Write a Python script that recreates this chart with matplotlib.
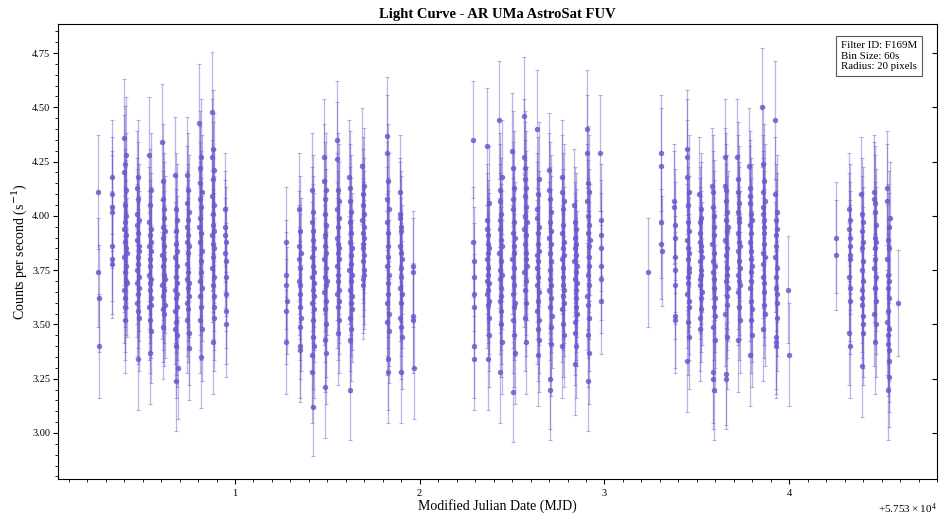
import numpy as np
import matplotlib
matplotlib.use("Agg")
import matplotlib.pyplot as plt
from matplotlib.ticker import AutoMinorLocator, ScalarFormatter

plt.rcParams['font.family'] = ['Liberation Serif', 'DejaVu Serif']
plt.rcParams['mathtext.fontset'] = 'dejavuserif'

MJD0 = 57530.0
BIN = 60.0  # seconds

# start of each orbit segment (days after MJD0)
orbit_start = [
    0.260, 0.332, 0.399, 0.468, 0.534, 0.606, 0.675, 0.738, 0.807, 0.875, 0.946,
    1.276, 1.347, 1.415, 1.482, 1.551, 1.619, 1.689, 1.821, 1.892, 1.964,
    2.290, 2.363, 2.431, 2.501, 2.565, 2.633, 2.700, 2.769, 2.837, 2.906, 2.978,
    3.238, 3.306, 3.378, 3.446, 3.514, 3.584, 3.653, 3.720, 3.785, 3.855, 3.924, 3.996,
    4.252, 4.324, 4.391, 4.459, 4.530, 4.590,
]

# count rate (counts/s) in each 60 s bin, one list per orbit segment
orbit_rates = [
    [4.11, 3.74, 3.62, 3.40],
    [4.18, 4.04, 3.86, 4.10, 3.80, 4.02, 3.78],
    [3.94, 4.20, 3.66, 3.81, 4.36, 3.58, 4.05, 3.88, 3.74, 4.24, 3.52, 3.97, 3.62, 4.12, 3.70, 3.85, 4.28, 3.91, 3.77, 4.00, 3.69, 3.83],
    [3.89, 4.01, 3.75, 3.60, 4.13, 3.96, 3.69, 3.34, 3.81, 4.08, 3.64, 3.92, 3.78, 4.18, 3.56, 3.86, 3.72, 3.98, 3.67, 3.84, 3.53],
    [3.73, 4.28, 3.86, 3.58, 3.97, 3.66, 3.37, 3.80, 4.05, 3.69, 3.52, 3.91, 3.77, 3.62, 4.12, 3.84, 3.47, 3.71, 3.94, 3.59, 3.88],
    [3.82, 4.34, 3.68, 3.95, 3.57, 4.08, 3.77, 3.63, 3.90, 3.49, 4.16, 3.73, 3.86, 3.55, 3.99, 3.66, 4.03, 3.80, 3.59, 3.93, 3.71],
    [3.66, 4.19, 3.48, 3.81, 3.56, 3.93, 3.24, 3.72, 3.62, 4.03, 3.51, 3.87, 3.40, 3.69, 3.77, 3.58, 3.98, 3.45, 3.84, 3.64, 3.30],
    [3.95, 4.19, 3.78, 3.60, 4.06, 3.71, 3.88, 3.52, 3.98, 3.67, 3.83, 4.12, 3.57, 3.91, 3.74, 3.39, 4.02, 3.63, 3.86, 3.69, 3.46],
    [4.43, 3.95, 4.22, 3.70, 4.08, 3.52, 3.88, 4.15, 3.63, 3.99, 3.35, 3.79, 4.27, 3.58, 3.92, 3.74, 4.04, 3.48, 3.84, 4.11, 3.67],
    [4.48, 4.09, 3.91, 4.27, 3.76, 4.01, 3.42, 3.87, 4.17, 3.68, 3.96, 4.31, 3.81, 3.58, 4.05, 3.72, 3.93, 3.53, 4.21, 3.85, 3.63],
    [4.03, 3.95, 3.91, 3.83, 3.79, 3.64, 3.50, 3.72, 3.88, 3.56],

    [3.88, 3.73, 3.68, 3.56, 3.42, 3.61],
    [4.03, 3.86, 3.80, 3.70, 3.68, 3.49, 3.40, 3.38, 3.93, 3.76, 3.58, 3.64, 3.83, 3.53],
    [3.97, 3.81, 4.12, 3.60, 3.36, 3.72, 3.28, 3.89, 3.12, 3.66, 4.02, 3.52, 3.77, 3.44, 3.93, 3.69, 3.57, 3.85, 3.40, 3.74, 3.63],
    [4.27, 3.80, 4.16, 3.65, 4.08, 3.43, 3.91, 3.21, 3.72, 4.01, 3.57, 3.86, 3.50, 3.96, 3.68, 3.76, 4.12, 3.61, 3.83, 3.37, 3.70],
    [4.35, 3.90, 4.26, 3.77, 3.64, 4.03, 3.46, 3.83, 3.70, 4.12, 3.58, 3.95, 3.73, 3.87, 3.52, 4.07, 3.66, 3.80, 3.99, 3.61, 3.85],
    [4.18, 3.75, 4.13, 3.53, 4.07, 3.43, 3.88, 3.20, 3.66, 3.97, 3.60, 3.82, 4.02, 3.70, 3.48, 3.92, 3.78, 3.63, 3.85, 3.57, 3.73],
    [4.23, 3.98, 4.10, 3.85, 3.79, 4.05, 3.71, 3.92, 3.68, 3.87, 4.14, 3.75, 3.95, 3.82, 4.01, 3.73, 3.90],
    [4.37, 3.97, 4.29, 3.77, 3.60, 4.08, 3.51, 3.86, 3.34, 3.69, 4.16, 3.92, 3.28, 3.64, 3.81, 3.55, 4.03, 3.73, 3.47],
    [4.11, 3.86, 4.01, 3.67, 3.99, 3.53, 3.83, 3.49, 3.93, 3.28, 3.76, 3.60, 3.72, 3.95, 3.80, 3.64, 3.44],
    [3.77, 3.74, 3.54, 3.52, 3.30],

    [4.35, 3.88, 3.79, 3.72, 3.58, 3.40, 3.34, 3.64],
    [4.32, 3.80, 3.98, 3.70, 3.94, 3.64, 3.91, 3.34, 3.83, 3.73, 3.66, 3.87, 3.76, 3.59, 4.06, 3.53, 3.69, 3.45, 3.85, 3.61],
    [4.44, 3.83, 4.12, 3.71, 4.07, 3.61, 3.98, 3.28, 3.94, 3.75, 3.63, 3.50, 3.89, 4.01, 3.67, 3.79, 3.56, 3.86, 3.42, 4.18, 3.73],
    [4.30, 3.80, 4.22, 3.52, 4.08, 3.72, 4.03, 3.19, 3.92, 3.64, 3.86, 3.58, 3.97, 3.76, 3.45, 4.13, 3.68, 3.83, 3.37, 3.90, 3.60],
    [4.46, 3.94, 4.27, 3.74, 4.22, 3.53, 4.17, 3.87, 4.09, 3.66, 4.00, 3.42, 3.80, 4.04, 3.70, 3.91, 3.60, 3.83, 4.13, 3.77, 3.97],
    [4.40, 3.82, 4.03, 3.56, 3.99, 3.68, 3.76, 3.48, 3.36, 3.92, 3.72, 4.10, 3.61, 3.87, 3.79, 3.52, 3.95, 3.65, 4.17, 3.84, 3.43],
    [4.21, 3.90, 4.12, 3.66, 4.08, 3.25, 3.75, 3.20, 3.83, 3.97, 3.58, 3.71, 3.49, 3.87, 3.62, 4.02, 3.79, 3.41, 3.68, 3.93, 3.54],
    [4.18, 3.80, 4.11, 3.57, 3.92, 3.40, 3.76, 3.85, 3.68, 4.03, 3.63, 3.96, 3.72, 3.50, 3.88, 3.82, 3.60, 4.07, 3.66, 3.45],
    [4.05, 3.79, 3.97, 3.51, 3.85, 3.32, 3.71, 3.46, 3.90, 3.66, 3.82, 3.58, 3.94, 3.74, 3.62, 3.87, 3.40, 3.69, 3.55, 3.77],
    [4.40, 4.07, 4.29, 3.63, 4.15, 3.45, 4.00, 3.24, 3.73, 3.59, 3.92, 3.81, 3.68, 3.96, 3.53, 3.86, 4.11, 3.77, 3.37, 3.89],
    [4.29, 3.98, 3.91, 3.71, 3.61, 3.85, 3.77],

    [3.74],
    [4.29, 4.23, 3.97, 3.87, 3.84],
    [4.07, 4.04, 3.96, 3.81, 3.54, 3.52, 3.90, 3.68, 3.75],
    [4.31, 3.89, 4.27, 3.64, 4.18, 3.33, 3.72, 3.51, 3.97, 3.80, 4.05, 3.69, 3.85, 3.58, 3.93, 3.76, 4.11, 3.61, 3.83, 3.44, 3.74],
    [4.10, 3.79, 3.97, 3.53, 3.88, 3.71, 3.68, 3.48, 3.92, 3.75, 4.03, 3.62, 3.84, 3.57, 3.99, 3.73, 3.86, 3.65, 3.81],
    [4.14, 3.87, 4.11, 3.49, 4.04, 3.28, 3.79, 3.25, 3.74, 3.20, 3.95, 3.67, 3.83, 3.58, 4.00, 3.71, 3.91, 3.62, 3.43, 3.77, 3.54],
    [4.27, 3.89, 4.14, 3.55, 4.12, 3.27, 4.07, 3.82, 3.70, 3.25, 3.98, 3.76, 3.93, 3.63, 4.02, 3.85, 3.59, 3.73, 3.44, 3.95, 3.67],
    [4.27, 3.92, 4.17, 3.65, 4.11, 3.43, 4.02, 3.84, 3.73, 3.97, 3.79, 4.06, 3.70, 3.88, 3.58, 3.99, 3.76, 3.52, 3.86, 3.68],
    [4.23, 3.96, 4.13, 3.67, 4.09, 3.36, 4.06, 3.88, 3.74, 3.52, 4.01, 3.80, 3.92, 3.61, 3.84, 3.70, 3.98, 3.57, 3.77, 3.45],
    [4.50, 3.83, 4.24, 3.72, 4.11, 3.48, 4.04, 3.78, 4.01, 3.65, 3.98, 3.59, 3.92, 4.16, 3.87, 3.69, 3.95, 3.55, 3.81, 4.07],
    [4.44, 3.81, 4.10, 3.44, 3.91, 3.72, 3.67, 3.42, 3.40, 3.98, 3.86, 3.60, 4.02, 3.76, 3.53, 3.94, 3.64],
    [3.66, 3.36],

    [3.90, 3.82],
    [4.03, 3.72, 3.94, 3.46, 3.90, 3.82, 3.80, 3.61, 3.40, 3.86, 3.67, 3.98],
    [4.10, 3.75, 4.01, 3.59, 3.93, 3.31, 3.85, 3.66, 3.62, 3.50, 3.46, 3.79, 3.70, 3.88, 3.54, 3.97],
    [4.11, 3.76, 4.08, 3.55, 4.06, 3.42, 4.02, 3.90, 3.80, 3.67, 3.67, 3.85, 3.96, 3.72, 3.61, 3.88, 3.50],
    [4.13, 3.80, 4.07, 3.51, 3.89, 3.20, 3.73, 3.67, 3.56, 3.45, 3.41, 3.38, 3.26, 3.95, 3.62, 3.85, 3.48, 3.70, 3.33, 3.99],
    [3.60],
]

fig, ax = plt.subplots(figsize=(9.4, 5.17), dpi=100)
fig.subplots_adjust(left=0.0617, right=0.9968, top=0.9536, bottom=0.0735)

mjd = []
rate = []
for t0, r in zip(orbit_start, orbit_rates):
    mjd.extend(MJD0 + t0 + np.arange(len(r)) * BIN / 86400.0)
    rate.extend(r)
mjd = np.array(mjd)
rate = np.array(rate)
err = np.sqrt(rate * BIN) / BIN  # Poisson error on the binned rate

ax.errorbar(mjd, rate, yerr=err, fmt='none', ecolor='slateblue',
            elinewidth=0.9, capsize=1.5, capthick=0.8, alpha=0.45)
ax.plot(mjd, rate, 'o', color='slateblue', ms=3.9, alpha=0.85, mew=0)

ax.set_xlim(MJD0 + 0.042, MJD0 + 4.80)
ax.set_ylim(2.788, 4.884)

fmt = ScalarFormatter(useOffset=MJD0, useMathText=True)
ax.xaxis.set_major_formatter(fmt)
ax.xaxis.set_minor_locator(AutoMinorLocator(10))
ax.yaxis.set_minor_locator(AutoMinorLocator(5))
ax.tick_params(axis='both', which='both', direction='out', labelsize=7.5, pad=2)
ax.tick_params(axis='both', which='major', length=3.5)
ax.tick_params(axis='both', which='minor', length=2)
ax.yaxis.set_tick_params(which='major', right=True, direction='out')
# right-hand ticks point into the axes
for t in ax.yaxis.get_major_ticks():
    t.tick2line.set_marker(matplotlib.lines.TICKLEFT)

ax.set_title('Light Curve - AR UMa AstroSat FUV', fontsize=10.5, fontweight='bold', pad=4)
ax.set_xlabel('Modified Julian Date (MJD)', fontsize=10, labelpad=1)
ax.set_ylabel('Counts per second (s$^{-1}$)', fontsize=10, labelpad=2)
ax.xaxis.get_offset_text().set_fontsize(8)

ax.text(0.891, 0.962, 'Filter ID: F169M\nBin Size: 60s\nRadius: 20 pixels',
        transform=ax.transAxes, ha='left', va='top', fontsize=7.8,
        bbox=dict(boxstyle='square,pad=0.45', fc='white', ec='0.35', lw=0.8))

plt.savefig('out.png', dpi=100)
